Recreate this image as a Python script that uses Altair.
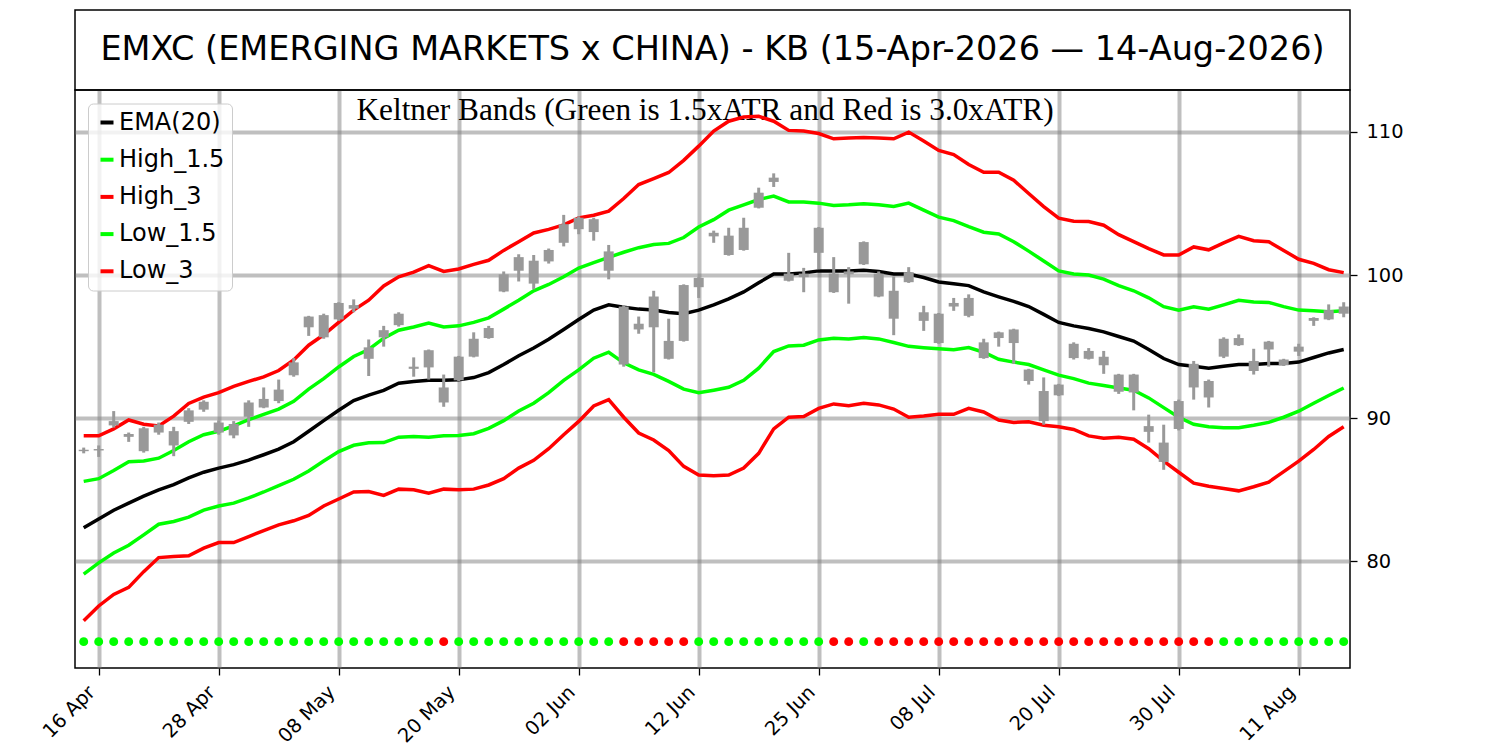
import altair as alt
import pandas as pd

TITLE = "EMXC (EMERGING MARKETS x CHINA) - KB (15-Apr-2026 \u2014 14-Aug-2026)"
SUBTITLE = "Keltner Bands (Green is 1.5xATR and Red is 3.0xATR)"

# trading-day positions of the x tick labels
TICK_POS = [1, 9, 17, 25, 33, 41, 49, 57, 65, 73, 81]
TICK_LABELS = ["16 Apr", "28 Apr", "08 May", "20 May", "02 Jun", "12 Jun",
               "25 Jun", "08 Jul", "20 Jul", "30 Jul", "11 Aug"]
Y_TICKS = [80, 90, 100, 110]

EMA_20 = [82.35, 82.97, 83.58, 84.07, 84.56, 85.0, 85.37, 85.83, 86.23, 86.52,
          86.76, 87.08, 87.45, 87.84, 88.36, 89.09, 89.83, 90.56, 91.23, 91.62,
          91.95, 92.45, 92.57, 92.65, 92.65, 92.68, 92.84, 93.19, 93.75, 94.36,
          94.9, 95.51, 96.2, 96.89, 97.55, 97.92, 97.75, 97.62, 97.55, 97.38,
          97.3, 97.55, 97.92, 98.33, 98.82, 99.46, 100.07, 100.07, 100.15, 100.29,
          100.29, 100.29, 100.34, 100.25, 100.07, 100.07, 99.83, 99.51, 99.39, 99.26,
          98.82, 98.48, 98.16, 97.8, 97.25, 96.69, 96.45, 96.27, 96.03, 95.71,
          95.39, 94.8, 94.17, 93.75, 93.63, 93.5, 93.63, 93.75, 93.75, 93.82,
          93.82, 93.92, 94.24, 94.56, 94.8]
HIGH_1_5 = [85.59, 85.78, 86.35, 86.96, 87.01, 87.21, 87.75, 88.36, 88.85, 89.09,
            89.46, 89.9, 90.27, 90.64, 91.18, 92.03, 92.77, 93.58, 94.31, 94.8,
            95.59, 96.15, 96.37, 96.64, 96.37, 96.45, 96.69, 97.01, 97.62, 98.24,
            98.9, 99.34, 99.88, 100.49, 100.86, 101.23, 101.59, 101.91, 102.13, 102.21,
            102.62, 103.35, 103.87, 104.53, 104.9, 105.27, 105.51, 105.1, 105.1, 105.02,
            104.85, 104.9, 104.98, 104.9, 104.78, 105.02, 104.53, 104.04, 103.8, 103.38,
            102.99, 102.87, 102.33, 101.67, 100.98, 100.29, 100.07, 100.0, 99.71, 99.26,
            98.9, 98.41, 97.79, 97.55, 97.79, 97.62, 97.92, 98.24, 98.11, 98.09,
            97.79, 97.55, 97.5, 97.43, 97.5]
HIGH_3 = [88.77, 88.77, 89.26, 89.88, 89.58, 89.46, 90.15, 91.03, 91.47, 91.79,
          92.23, 92.57, 92.89, 93.33, 94.07, 95.1, 95.83, 96.69, 97.55, 98.24,
          99.24, 99.88, 100.2, 100.66, 100.25, 100.42, 100.74, 101.03, 101.72, 102.33,
          102.94, 103.19, 103.5, 103.99, 104.17, 104.46, 105.34, 106.32, 106.74, 107.16,
          108.01, 109.0, 110.05, 110.74, 111.03, 111.08, 110.74, 110.1, 110.05, 109.88,
          109.51, 109.56, 109.61, 109.56, 109.51, 109.98, 109.36, 108.7, 108.41, 107.72,
          107.18, 107.18, 106.62, 105.69, 104.78, 103.97, 103.75, 103.73, 103.48, 102.82,
          102.33, 101.84, 101.4, 101.4, 101.96, 101.76, 102.25, 102.7, 102.4, 102.33,
          101.72, 101.1, 100.81, 100.37, 100.17]
LOW_1_5 = [79.12, 79.9, 80.59, 81.13, 81.86, 82.6, 82.79, 83.09, 83.58, 83.87,
           84.07, 84.44, 84.85, 85.29, 85.74, 86.32, 87.01, 87.67, 88.11, 88.28,
           88.3, 88.68, 88.73, 88.68, 88.77, 88.8, 88.92, 89.29, 89.83, 90.51,
           91.05, 91.79, 92.65, 93.38, 94.19, 94.61, 93.87, 93.38, 93.06, 92.57,
           92.03, 91.78, 91.96, 92.16, 92.65, 93.5, 94.66, 95.05, 95.1, 95.47,
           95.59, 95.54, 95.64, 95.54, 95.29, 95.02, 94.93, 94.85, 94.78, 94.93,
           94.61, 94.12, 93.92, 93.75, 93.38, 93.01, 92.77, 92.45, 92.28, 92.11,
           91.96, 91.42, 90.74, 90.07, 89.58, 89.41, 89.34, 89.34, 89.51, 89.71,
           90.07, 90.49, 91.05, 91.59, 92.11]
LOW_3 = [75.86, 76.89, 77.7, 78.19, 79.29, 80.27, 80.34, 80.39, 80.93, 81.32,
         81.32, 81.74, 82.16, 82.55, 82.84, 83.21, 83.87, 84.36, 84.85, 84.88,
         84.61, 85.05, 85.0, 84.76, 85.05, 85.0, 85.05, 85.34, 85.78, 86.52,
         87.06, 87.87, 88.85, 89.78, 90.86, 91.3, 90.07, 88.97, 88.48, 87.75,
         86.64, 86.03, 85.98, 86.03, 86.52, 87.55, 89.26, 90.07, 90.12, 90.69,
         91.0, 90.88, 91.05, 90.93, 90.64, 90.07, 90.15, 90.27, 90.27, 90.69,
         90.44, 89.88, 89.71, 89.76, 89.51, 89.41, 89.22, 88.77, 88.6, 88.68,
         88.53, 87.87, 87.01, 86.23, 85.47, 85.25, 85.1, 84.93, 85.22, 85.54,
         86.27, 87.01, 87.82, 88.73, 89.41]

OPEN = [87.7, 87.75, 89.5, 88.9, 89.3, 89.0, 89.1, 89.75, 90.6, 89.7,
        88.8, 90.1, 90.75, 91.2, 93.0, 96.35, 97.2, 96.9, 97.65, 94.15,
        95.65, 96.5, 93.45, 94.75, 92.15, 92.65, 94.3, 95.6, 98.85, 100.3,
        101.0, 100.95, 102.25, 103.2, 103.9, 100.3, 97.8, 96.2, 96.35, 95.4,
        95.4, 99.15, 102.7, 101.4, 101.75, 104.7, 106.5, 100.1, 100.1, 101.55,
        100.1, 100.05, 100.75, 100.1, 98.9, 99.5, 96.8, 97.3, 97.8, 97.15,
        95.3, 95.6, 96.2, 93.4, 91.9, 91.6, 94.2, 94.7, 94.3, 91.85,
        93.05, 89.05, 88.3, 89.25, 92.15, 92.6, 94.3, 95.1, 93.3, 95.35,
        93.7, 94.65, 97.0, 96.9, 97.3]
HIGH = [87.95, 88.1, 90.5, 89.0, 89.4, 89.7, 89.4, 90.7, 91.25, 89.85,
        89.8, 91.25, 92.15, 92.7, 94.2, 97.15, 97.3, 98.1, 98.3, 95.5,
        96.45, 97.4, 94.25, 94.8, 93.05, 94.35, 96.0, 96.45, 100.25, 101.45,
        101.4, 101.85, 104.2, 104.1, 104.0, 102.1, 97.9, 97.1, 98.9, 96.95,
        99.35, 99.85, 103.1, 103.3, 104.0, 106.1, 107.1, 101.55, 100.5, 103.35,
        101.25, 100.55, 102.35, 100.25, 99.9, 100.55, 97.85, 97.35, 98.4, 98.65,
        95.55, 96.05, 96.25, 93.45, 92.85, 92.4, 95.3, 94.9, 94.7, 93.1,
        93.1, 90.25, 89.55, 91.3, 94.0, 92.7, 95.65, 95.85, 94.85, 95.4,
        94.15, 95.2, 97.05, 97.95, 98.1]
LOW = [87.55, 87.3, 89.35, 88.35, 87.6, 88.85, 87.35, 89.6, 90.45, 88.85,
       88.6, 89.4, 90.7, 91.05, 92.9, 95.75, 95.55, 96.8, 97.4, 92.95,
       95.0, 96.4, 92.9, 92.7, 90.8, 92.6, 94.25, 95.55, 98.8, 99.55,
       99.0, 100.8, 102.0, 102.85, 102.4, 99.7, 93.6, 95.9, 93.2, 94.1,
       95.35, 98.4, 102.25, 101.35, 101.7, 104.65, 106.15, 99.55, 98.8, 100.4,
       98.75, 98.0, 100.7, 98.45, 95.8, 99.45, 96.1, 95.2, 97.5, 97.05,
       94.15, 95.0, 93.8, 92.35, 89.55, 91.55, 94.1, 94.1, 93.1, 91.7,
       90.55, 88.3, 86.4, 89.15, 91.3, 90.75, 94.2, 95.05, 93.05, 93.6,
       93.65, 94.35, 96.45, 96.85, 97.05]
CLOSE = [87.8, 87.85, 89.8, 88.7, 87.7, 89.55, 88.1, 90.55, 91.15, 89.0,
         89.6, 91.1, 91.35, 92.0, 93.9, 97.1, 95.65, 98.05, 97.9, 94.95,
         96.15, 97.3, 93.6, 93.55, 91.1, 94.3, 95.55, 96.3, 100.05, 101.25,
         99.4, 101.75, 103.55, 104.0, 103.0, 101.65, 93.75, 96.6, 98.5, 94.15,
         99.3, 99.8, 102.95, 102.75, 103.3, 105.75, 106.8, 99.6, 99.85, 103.3,
         98.8, 100.25, 102.3, 98.5, 96.95, 100.2, 97.4, 95.25, 98.05, 98.4,
         94.2, 96.0, 95.25, 92.6, 89.8, 92.35, 95.2, 94.15, 93.7, 93.05,
         91.8, 89.45, 86.95, 91.2, 93.8, 91.45, 95.55, 95.6, 94.0, 94.8,
         94.1, 95.0, 96.8, 97.55, 97.8]

# G = green dot, R = red dot (one per trading day)
SIGNAL = list("GGGGGGGGGGGGGGGGGGGGGGGG" "R" "GGGGGGGGGGG" "RRRRR" "GGGGGGGGG"
              "RR" "G" "RRRRRRRRRRRRRRRRRRRRRRR" "GGGGGGGGG")
SIGNAL_LEVEL = 74.4

SERIES_NAMES = ["EMA(20)", "High_1.5", "High_3", "Low_1.5", "Low_3"]
SERIES_COLORS = ["#000000", "#00ff00", "#ff0000", "#00ff00", "#ff0000"]
SERIES_VALUES = [EMA_20, HIGH_1_5, HIGH_3, LOW_1_5, LOW_3]

N = len(EMA_20)
for arr in SERIES_VALUES + [OPEN, HIGH, LOW, CLOSE, SIGNAL]:
    assert len(arr) == N, len(arr)

lines_df = pd.DataFrame(
    [{"day": i, "series": name, "value": v}
     for name, arr in zip(SERIES_NAMES, SERIES_VALUES)
     for i, v in enumerate(arr)]
)
candles_df = pd.DataFrame({"day": list(range(N)), "open": OPEN, "high": HIGH,
                           "low": LOW, "close": CLOSE})
signal_df = pd.DataFrame({"day": list(range(N)), "signal": SIGNAL,
                          "level": [SIGNAL_LEVEL] * N})

W, H = 1275, 578
CANDLE = "#999999"

label_expr = ("[" + ",".join("'%s'" % s for s in TICK_LABELS) + "][indexof(["
              + ",".join(str(p) for p in TICK_POS) + "], datum.value)]")

x_scale = alt.Scale(domain=[-0.58, 84.42], nice=False, zero=False, padding=0)
y_scale = alt.Scale(domain=[72.56, 112.92], nice=False, zero=False, padding=0)


def x_axis():
    return alt.Axis(values=TICK_POS, labelExpr=label_expr, labelAngle=315,
                    labelAlign="right", labelBaseline="alphabetic", labelOffset=-3,
                    labelPadding=18, tickSize=7, grid=True, title=None)


def y_axis():
    return alt.Axis(orient="right", values=Y_TICKS, tickSize=7,
                    labelPadding=9, grid=True, title=None)


one = alt.Data(values=[{}])

title_box = alt.Chart(one).mark_rect(filled=False, color="black", strokeWidth=1.5).encode(
    x=alt.value(0), x2=alt.value(W), y=alt.value(-80), y2=alt.value(0)
)

title_text = alt.Chart(one).mark_text(
    text=TITLE, font="DejaVu Sans", fontSize=33.5, align="center",
    baseline="alphabetic", color="black"
).encode(x=alt.value(W / 2), y=alt.value(-30))

subtitle = alt.Chart(one).mark_text(
    text=SUBTITLE, font="Liberation Serif", fontSize=31.3, align="center",
    baseline="alphabetic", color="black"
).encode(x=alt.value(630), y=alt.value(30))

lines = alt.Chart(lines_df).mark_line(strokeWidth=3.5).encode(
    x=alt.X("day:Q", scale=x_scale, axis=x_axis()),
    y=alt.Y("value:Q", scale=y_scale, axis=y_axis()),
    color=alt.Color(
        "series:N",
        scale=alt.Scale(domain=SERIES_NAMES, range=SERIES_COLORS),
        legend=alt.Legend(
            orient="none", legendX=13, legendY=13.5, title=None,
            symbolType="stroke", symbolSize=169, symbolStrokeWidth=4,
            labelFontSize=24, labelFont="DejaVu Sans", labelColor="black",
            labelOffset=0, rowPadding=13.2, padding=7,
            fillColor="rgba(255,255,255,0.8)", strokeColor="#cccccc",
            cornerRadius=5,
        ),
    ),
    detail="series:N",
    order="day:Q",
)

wicks = alt.Chart(candles_df).mark_rule(strokeWidth=3, color=CANDLE).encode(
    x=alt.X("day:Q", scale=x_scale, axis=x_axis()),
    y=alt.Y("low:Q", scale=y_scale, axis=y_axis()),
    y2="high:Q",
)

bodies = alt.Chart(candles_df).mark_bar(size=10, color=CANDLE).encode(
    x=alt.X("day:Q", scale=x_scale, axis=x_axis()),
    y=alt.Y("open:Q", scale=y_scale, axis=y_axis()),
    y2="close:Q",
)

dots = alt.Chart(signal_df).mark_circle(size=80, opacity=1).encode(
    x=alt.X("day:Q", scale=x_scale, axis=x_axis()),
    y=alt.Y("level:Q", scale=y_scale, axis=y_axis()),
    fill=alt.Fill("signal:N", scale=alt.Scale(domain=["G", "R"],
                                              range=["#00ff00", "#ff0000"]),
                  legend=None),
)

chart = alt.layer(title_box, title_text, subtitle, lines, wicks, bodies, dots).properties(
    width=W, height=H,
    padding={"left": 67, "top": 82, "right": 140, "bottom": 82},
    autosize=alt.AutoSizeParams(type="none"),
).configure_view(
    stroke="black", strokeWidth=1.5
).configure_axis(
    labelFont="DejaVu Sans", labelFontSize=19.4, labelColor="black",
    tickColor="black", tickWidth=1.3, domain=False,
    gridColor="#808080", gridOpacity=0.5, gridWidth=4,
)

chart.save("out.html", embed_options={"renderer": "svg", "actions": False})
